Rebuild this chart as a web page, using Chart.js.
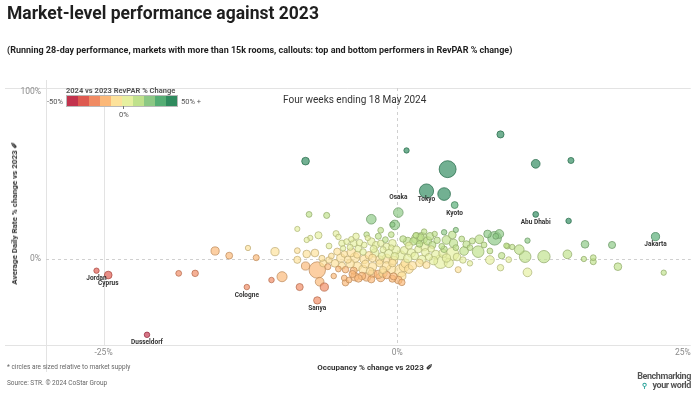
<!DOCTYPE html>
<html>
<head>
<meta charset="utf-8">
<script src="https://cdn.jsdelivr.net/npm/chart.js@4.4.0/dist/chart.umd.min.js"></script>
<style>
  body { margin: 0; width: 700px; height: 394px; background: #fff; position: relative; overflow: hidden;
         font-family: Roboto, "Noto Sans", sans-serif; color: #333; }
  #wrap { position: absolute; left: 0; top: 0; width: 700px; height: 394px; }
  .t { position: absolute; white-space: nowrap; line-height: 1; }
  #legendBar { position: absolute; left: 67px; top: 96px; height: 10px; display: flex; outline: 1px solid #b9b9b9; }
  #legendBar div { width: 11px; height: 10px; }
</style>
</head>
<body>
<div id="wrap"><canvas id="chart" width="700" height="394"></canvas></div>

<div class="t" style="left:7px;top:5px;font-size:17.5px;font-weight:700;color:#1f1f1f">Market-level performance against 2023</div>
<div class="t" style="left:7px;top:46px;font-size:9px;font-weight:700;color:#1f1f1f">(Running 28-day performance, markets with more than 15k rooms, callouts: top and bottom performers in RevPAR % change)</div>

<div class="t" style="left:66px;top:87px;font-size:7.5px;font-weight:700;color:#555">2024 vs 2023 RevPAR % Change</div>
<div class="t" style="left:47px;top:98px;font-size:7.5px;color:#555">-50%</div>
<div id="legendBar"></div>
<div class="t" style="left:181px;top:98px;font-size:7.5px;color:#555">50% +</div>
<div style="position:absolute;left:123px;top:106px;width:1px;height:3px;background:#777"></div>
<div class="t" style="left:119px;top:111px;font-size:7.5px;color:#555">0%</div>

<div class="t" style="left:283px;top:95px;font-size:10px;color:#333">Four weeks ending 18 May 2024</div>

<div class="t" style="left:15px;top:213px;font-size:8px;font-weight:700;color:#333;transform:translate(-50%,-50%) rotate(-90deg)">Average Daily Rate % change vs 2023 ✐</div>
<div class="t" style="left:375px;top:364px;font-size:8px;font-weight:700;color:#333;transform:translateX(-50%)">Occupancy % change vs 2023 ✐</div>

<div class="t" style="left:7px;top:364px;font-size:6.5px;color:#666">* circles are sized relative to market supply</div>
<div class="t" style="left:7px;top:380px;font-size:6.5px;color:#666">Source: STR. © 2024 CoStar Group</div>
<div class="t" style="right:9px;top:372px;font-size:9px;font-weight:700;color:#555;text-align:right;line-height:8.5px;letter-spacing:-0.4px">Benchmarking<br><span style="color:#2aa39a;font-size:7px">⚲</span>&nbsp;&nbsp;&nbsp;your world</div>

<script>
// callout markets are the first entries of the arrays below
const callouts = ['Tokyo', 'Osaka', 'Kyoto', 'Abu Dhabi', 'Jakarta', 'Jordan', 'Cyprus', 'Cologne', 'Sanya', 'Dusseldorf'];

// occupancy % change vs 2023
const occChange = [
  2.5, 0.1, 4.9, 11.8, 22.0, -25.6, -24.6, -12.8, -6.8, -21.3,
  8.8, 0.8, -7.8, 4.3, 11.8, 14.8, 4.0, 14.6, -2.2, -7.5,
  -6.0, -0.2, -0.4, -8.5, -6.7, -5.2, -5.0, -1.4, -1.6, -0.5,
  2.3, 2.1, 2.0, 4.0, 5.0, 4.2, 7.7, 8.3, 8.7, 8.4,
  7.0, 7.4, 9.4, 11.1, 10.4, 10.9, 12.5, 14.5, 16.0, 16.7,
  16.7, 18.3, 18.8, 22.7, 15.9, 6.2, 5.7, 4.7, 8.8, 11.1,
  6.2, 6.9, 7.9, 7.9, 5.2, 3.7, 3.9, 4.8, 4.7, 1.7,
  2.3, 0.9, 9.3, 0.3, 0.1, 0.4, 0.4,
  -18.6, -17.2, -15.5, -14.3, -12.7, -12.0, -10.4, -10.7, -9.8, -8.5,
  -8.5, -7.8, -6.8, -7.7, -7.0, -8.3, -6.6, -6.2, -6.3, -5.8,
  -5.4, -5.0, -4.5, -4.4, -3.6, -3.0, -2.1, -1.6, -1.2, -0.4,
  -7.4, -7.7, -5.8,
  -4.7, -4.3, -3.7, -3.2, -2.8, -2.2, -1.8, -1.4, -0.9, -0.4,
  -0.1, -3.9, -2.5, -1.0, -4.0, -3.3, -2.0, -1.2, -0.5, -4.6,
  -3.5, -2.6,
  -5.1, -4.5, -3.9, -3.4, -2.9, -2.4, -1.9, -1.3, -0.7, -0.2,
  -4.8, -4.2, -3.6, -2.8, -2.1, -1.5, -0.9, -0.3, -5.6, -6.4,
  -5.3, -4.7, -4.0, -3.4, -2.7, -2.1, -1.5, -0.9, -0.4, -4.4,
  -3.7, -2.9, -2.3, -1.2, -0.5, -5.9,
  -3.8, -3.3, -2.6, -2.2, -1.4, -0.9, -0.3, -4.1,
  0.5, 1.0, 1.4, 1.9, 2.6, 3.0, 3.4, 3.8, 0.6, 1.2,
  1.8, 2.4, 2.9, 3.3, 0.3, 0.9, 1.5, 2.1, 2.7, 3.1,
  0.7, 1.3, 1.9, 2.5, 1.0, 0.6, 4.2, 4.4, 5.1, 5.6,
  4.0, 5.0, 2.8, 1.6, 3.2, 5.9, 6.4, 5.5, 9.8, 8.9,
  9.5
];

// average daily rate % change vs 2023
const adrChange = [
  40.7, 27.8, 32.3, 26.7, 13.4, -7.0, -9.6, -16.8, -24.8, -45.4,
  74.6, 65.0, 58.6, 53.8, 57.0, 59.0, 38.9, 22.8, 23.8, 26.7,
  26.1, 20.4, 20.6, 18.0, 14.2, 15.2, 13.2, 17.2, 13.6, 14.6,
  16.4, 12.4, 13.0, 16.0, 17.4, 11.4, 15.0, 12.4, 15.0, 13.6,
  11.8, 8.4, 7.6, 11.0, 5.6, 1.4, 1.4, 2.8, 8.8, 0.8,
  -1.6, 8.4, -4.6, -8.2, 0.0, 6.8, 4.8, 3.0, -5.2, -8.0,
  -2.6, 4.4, 4.8, -0.6, -6.4, -1.6, 3.4, 9.4, 14.4, 12.4,
  7.4, 10.4, 8.0, -7.0, -12.6, -10.2, -14.0,
  -8.6, -8.6, 4.8, 2.0, 6.6, 0.8, 4.4, -12.6, -10.6, 5.0,
  -0.5, -4.2, -6.6, 3.0, 3.6, -16.8, -13.6, -16.8, -2.6, -0.6,
  -10.2, -6.0, -11.4, -14.2, -10.6, -10.2, -8.6, -9.2, -8.4, -11.8,
  12.6, 11.4, 7.8,
  9.4, 10.4, 9.4, 9.8, 8.4, 10.4, 8.4, 9.4, 7.4, 9.4,
  5.4, 11.8, 12.6, 11.6, 7.0, 6.2, 6.0, 5.6, 6.8, 6.4,
  13.6, 14.6,
  4.4, 3.0, 4.0, 2.6, 4.2, 2.2, 3.6, 1.8, 3.2, 1.6,
  0.6, -0.4, 0.8, -0.2, 0.6, -0.6, 0.2, -0.8, 1.8, 0.4,
  -2.6, -4.0, -2.8, -4.4, -3.0, -4.6, -2.6, -4.2, -2.4, -6.4,
  -7.0, -6.2, -7.4, -6.6, -6.0, -4.6,
  -9.0, -11.6, -10.8, -12.2, -11.0, -9.6, -10.4, -12.6,
  12.0, 8.0, 10.6, 9.0, 10.8, 8.4, 11.2, 7.6, 5.2, 3.6,
  5.8, 4.0, 6.0, 2.6, 2.2, 0.4, 1.8, -0.4, 1.2, -1.0,
  -2.6, -4.0, -2.4, -3.6, -6.0, -4.6, 0.6, -2.4, 1.2, -0.6,
  5.8, 6.8, 13.6, 14.2, 15.0, 8.8, 10.8, 12.0, 7.2, 2.0,
  -0.4
];

// market supply, thousands of rooms
const supplyK = [
  120, 55, 28, 20, 40, 17, 35, 18, 32, 18,
  30, 17, 35, 170, 45, 22, 95, 18, 55, 20,
  22, 55, 16, 16, 30, 22, 18, 20, 22, 20,
  18, 80, 30, 18, 16, 45, 35, 110, 45, 20,
  45, 20, 17, 17, 55, 80, 90, 45, 35, 20,
  22, 30, 35, 17, 17, 20, 45, 100, 25, 45,
  18, 80, 20, 45, 22, 110, 40, 40, 35, 70,
  40, 45, 17, 90, 35, 40, 25,
  20, 25, 40, 28, 17, 22, 40, 18, 60, 20,
  30, 40, 160, 35, 35, 30, 45, 40, 30, 25,
  18, 20, 20, 25, 40, 35, 45, 40, 40, 30,
  17, 17, 20,
  25, 20, 30, 25, 20, 35, 30, 25, 30, 35,
  40, 18, 17, 20, 22, 28, 30, 22, 18, 17,
  25, 18,
  30, 25, 45, 30, 25, 35, 40, 30, 45, 35,
  40, 30, 55, 45, 35, 40, 50, 40, 20, 22,
  35, 30, 40, 45, 35, 40, 30, 45, 35, 25,
  30, 40, 35, 30, 50, 22,
  30, 35, 40, 30, 45, 35, 30, 20,
  25, 30, 35, 25, 40, 30, 25, 20, 35, 40,
  30, 35, 25, 45, 50, 40, 35, 45, 30, 40,
  45, 40, 35, 30, 45, 60, 40, 50, 35, 25,
  25, 20, 35, 20, 17, 30, 22, 20, 17, 25,
  20
];

const xTicks = [-25, 0, 25];
const yTicks = [0, 100];
const binColors = ['#c2334d', '#de5a50', '#f08b63', '#fbb878', '#fde29b',
                   '#e6f0a0', '#bfe18c', '#8cc884', '#55ad74', '#2f8a5e'];

document.getElementById('legendBar').innerHTML =
  binColors.map(c => `<div style="background:${c}"></div>`).join('');

function rgba(hex, a, k = 1) {
  const n = parseInt(hex.slice(1), 16);
  const r = Math.round(((n >> 16) & 255) * k), g = Math.round(((n >> 8) & 255) * k), b = Math.round((n & 255) * k);
  return `rgba(${r},${g},${b},${a})`;
}

function colorFor(i) {
  const revpar = ((1 + occChange[i] / 100) * (1 + adrChange[i] / 100) - 1) * 100;
  const bin = Math.max(0, Math.min(9, Math.floor((revpar + 50) / 10)));
  return binColors[bin];
}

// big circles first so small ones sit on top
const order = occChange.map((_, i) => i).sort((a, b) => supplyK[b] - supplyK[a]);
const points = order.map(i => ({ x: occChange[i], y: adrChange[i], r: 0.65 * Math.sqrt(supplyK[i]) }));

const frame = {
  id: 'frame',
  beforeDatasetsDraw(chart) {
    const { ctx, chartArea: a, scales: { x, y } } = chart;
    ctx.save();
    ctx.lineWidth = 1;
    ctx.strokeStyle = '#e3e3e3';
    ctx.beginPath();
    ctx.moveTo(5, a.top + 0.5); ctx.lineTo(a.right, a.top + 0.5);
    ctx.moveTo(5, a.bottom + 0.5); ctx.lineTo(a.right, a.bottom + 0.5);
    ctx.moveTo(a.left + 0.5, 80); ctx.lineTo(a.left + 0.5, 372);
    const xm = Math.round(x.getPixelForValue(-25)) + 0.5;
    ctx.moveTo(xm, a.top); ctx.lineTo(xm, a.bottom);
    ctx.stroke();
    ctx.setLineDash([3, 3]);
    ctx.strokeStyle = '#d0d0d0';
    ctx.beginPath();
    const x0 = Math.round(x.getPixelForValue(0)) + 0.5;
    const y0 = Math.round(y.getPixelForValue(0)) + 0.5;
    ctx.moveTo(x0, a.top); ctx.lineTo(x0, a.bottom);
    ctx.moveTo(a.left, y0); ctx.lineTo(a.right, y0);
    ctx.stroke();
    ctx.restore();
  },
  afterDatasetsDraw(chart) {
    const { ctx, chartArea: a, scales: { x, y } } = chart;
    ctx.save();
    ctx.fillStyle = '#8a8a8a';
    ctx.font = '8.5px Roboto, "Noto Sans", sans-serif';
    ctx.textBaseline = 'middle';
    xTicks.forEach(v => {
      const px = x.getPixelForValue(v);
      ctx.textAlign = px > a.right - 10 ? 'right' : 'center';
      ctx.fillText(v + '%', px > a.right - 10 ? a.right : px, a.bottom + 8);
    });
    ctx.textAlign = 'right';
    yTicks.forEach(v => ctx.fillText(v + '%', a.left - 5, y.getPixelForValue(v)));

    // callout labels
    const meta = chart.getDatasetMeta(0);
    ctx.fillStyle = '#333';
    ctx.font = 'bold 6.5px Roboto, "Noto Sans", sans-serif';
    ctx.textAlign = 'center';
    callouts.forEach((name, i) => {
      const el = meta.data[order.indexOf(i)];
      const dy = name === 'Osaka' ? -15 : 8;
      ctx.fillText(name, el.x, el.y + dy);
    });
    ctx.restore();
  }
};

new Chart(document.getElementById('chart'), {
  type: 'bubble',
  data: {
    datasets: [{
      data: points,
      backgroundColor: order.map(i => rgba(colorFor(i), 0.68)),
      borderColor: order.map(i => rgba(colorFor(i), 0.9, 0.75)),
      borderWidth: 0.8
    }]
  },
  options: {
    responsive: false,
    animation: false,
    events: [],
    layout: { padding: { left: 46, top: 88, right: 2, bottom: 49 } },
    scales: {
      x: { display: false, min: -29.9, max: 25 },
      y: { display: false, min: -51.5, max: 102.4 }
    },
    plugins: { legend: { display: false }, tooltip: { enabled: false } }
  },
  plugins: [frame]
});
</script>
</body>
</html>
